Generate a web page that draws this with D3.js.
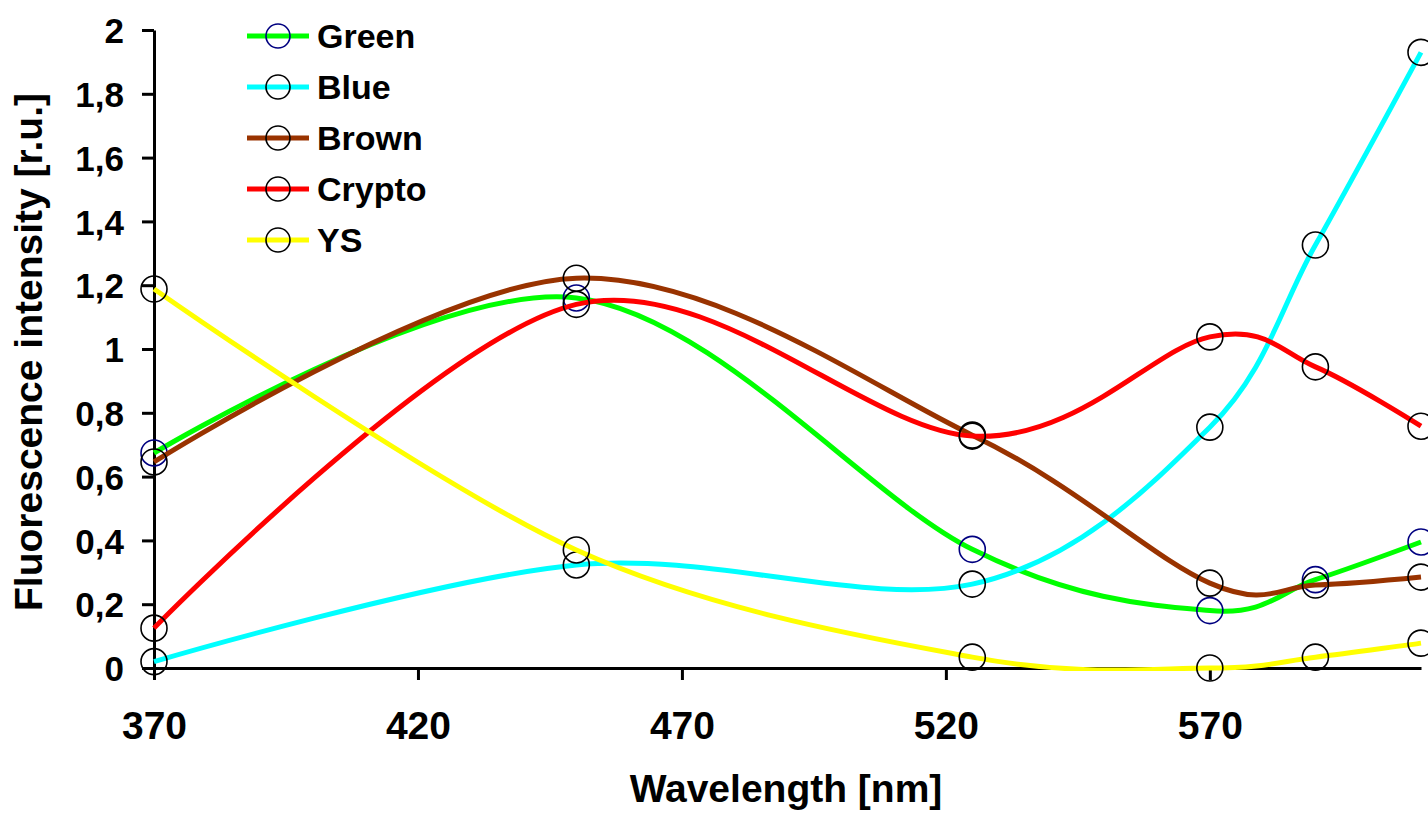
<!DOCTYPE html>
<html>
<head>
<meta charset="utf-8">
<script src="https://cdn.jsdelivr.net/npm/d3@7"></script>
<style>
  html, body { margin: 0; padding: 0; background: #fff; }
  svg { display: block; }
  text { font-family: "Liberation Sans", Arial, sans-serif; font-weight: bold; fill: #000; }
</style>
</head>
<body>
<svg id="chart" width="1428" height="816"></svg>
<script>
// Excitation wavelengths (nm)
const wavelengths = [370, 450, 525, 570, 590, 610];

// Fluorescence intensity per algal group (relative units)
const green  = [0.674, 1.160, 0.372, 0.180, 0.277, 0.395];
const blue   = [0.020, 0.323, 0.263, 0.755, 1.326, 1.930];
const brown  = [0.646, 1.222, 0.730, 0.266, 0.260, 0.285];
const crypto = [0.125, 1.140, 0.727, 1.038, 0.944, 0.758];
const ys     = [1.188, 0.370, 0.034, 0.000, 0.034, 0.078];

const seriesNames  = ["Green", "Blue", "Brown", "Crypto", "YS"];
const seriesValues = [green, blue, brown, crypto, ys];
const lineColors   = ["#00ff00", "#00ffff", "#993300", "#ff0000", "#ffff00"];
const markerColors = ["#000080", "#000000", "#000000", "#000000", "#000000"];

// Axis ticks
const xTicks = [370, 420, 470, 520, 570];
const yTicks = [0, 0.2, 0.4, 0.6, 0.8, 1, 1.2, 1.4, 1.6, 1.8, 2];
const yTickLabels = ["0", "0,2", "0,4", "0,6", "0,8", "1", "1,2", "1,4", "1,6", "1,8", "2"];

const svg = d3.select("#chart");

const x = d3.scaleLinear().domain([370, 610]).range([154, 1421]);
const y = d3.scaleLinear().domain([0, 2]).range([668, 30]);

// Y axis
const yAxis = svg.append("g")
  .attr("transform", `translate(${x(370)},0)`)
  .call(d3.axisLeft(y).tickValues(yTicks).tickSize(12).tickSizeOuter(0)
    .tickFormat((d, i) => yTickLabels[i]));
yAxis.select(".domain").attr("stroke", "#000").attr("stroke-width", 3);
yAxis.selectAll(".tick line").attr("stroke", "#000").attr("stroke-width", 3);
yAxis.selectAll(".tick text")
  .attr("x", -30).attr("dy", "0.36em")
  .style("font-size", "35px");

// X axis
const xAxis = svg.append("g")
  .attr("transform", `translate(0,${y(0)})`)
  .call(d3.axisBottom(x).tickValues(xTicks).tickSize(12).tickSizeOuter(0)
    .tickFormat(d3.format("d")));
xAxis.select(".domain").attr("stroke", "#000").attr("stroke-width", 3);
xAxis.selectAll(".tick line").attr("stroke", "#000").attr("stroke-width", 3);
xAxis.selectAll(".tick text")
  .attr("y", 71).attr("dy", 0)
  .style("font-size", "39px");

// Axis titles
svg.append("text")
  .attr("x", 786).attr("y", 802)
  .attr("text-anchor", "middle")
  .style("font-size", "39px")
  .text("Wavelength [nm]");

svg.append("text")
  .attr("transform", "translate(42,352) rotate(-90)")
  .attr("text-anchor", "middle")
  .style("font-size", "39px")
  .text("Fluorescence intensity [r.u.]");

// Plot clip: lines may not run below the zero baseline
svg.append("defs").append("clipPath").attr("id", "plotClip")
  .append("rect").attr("x", 0).attr("y", 0)
  .attr("width", 1428).attr("height", y(0) + 3);

const line = d3.line()
  .x(d => x(d.w))
  .y(d => y(d.v))
  .curve(d3.curveCardinal.tension(0));

const plot = svg.append("g");

seriesValues.forEach((vals, s) => {
  const pts = wavelengths.map((w, i) => ({ w, v: vals[i] }));
  const g = plot.append("g");
  g.append("path")
    .datum(pts)
    .attr("clip-path", "url(#plotClip)")
    .attr("fill", "none")
    .attr("stroke", lineColors[s])
    .attr("stroke-width", 5)
    .attr("d", line);
  g.selectAll("circle")
    .data(pts)
    .join("circle")
    .attr("cx", d => x(d.w))
    .attr("cy", d => y(d.v))
    .attr("r", 13)
    .attr("fill", "none")
    .attr("stroke", markerColors[s])
    .attr("stroke-width", 1.6);
});

// Legend
const legend = svg.append("g");
seriesNames.forEach((name, i) => {
  const cy = 36 + i * 51;
  legend.append("line")
    .attr("x1", 247).attr("x2", 309)
    .attr("y1", cy).attr("y2", cy)
    .attr("stroke", lineColors[i]).attr("stroke-width", 5);
  legend.append("circle")
    .attr("cx", 278).attr("cy", cy).attr("r", 12)
    .attr("fill", "none")
    .attr("stroke", markerColors[i]).attr("stroke-width", 1.6);
  legend.append("text")
    .attr("x", 317).attr("y", cy + 12)
    .style("font-size", "34px")
    .text(name);
});
</script>
</body>
</html>
